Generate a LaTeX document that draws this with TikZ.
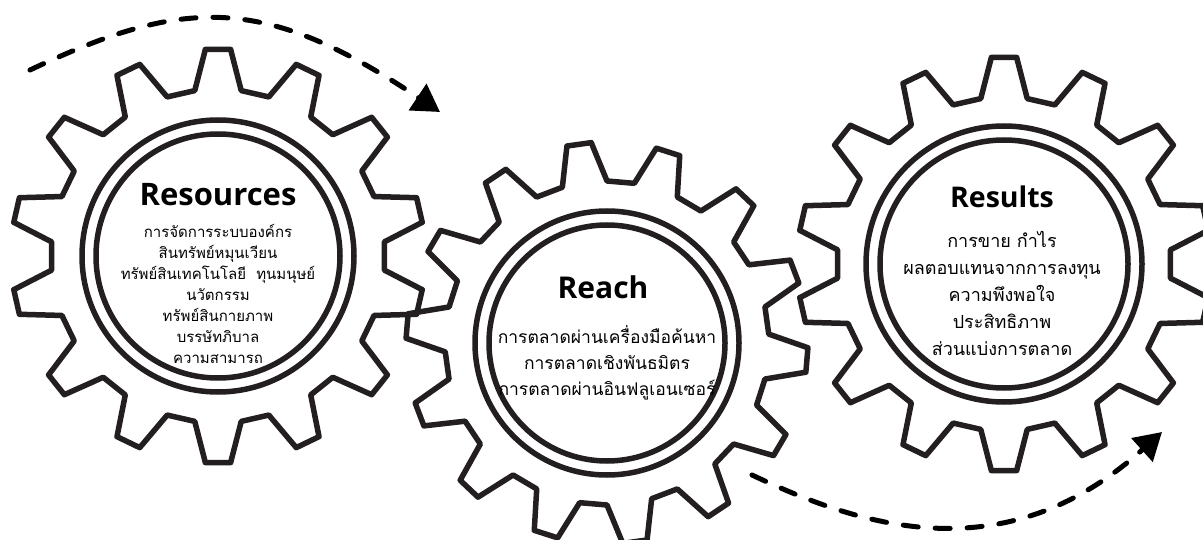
\documentclass[tikz,border=0pt]{standalone}
\usepackage{fontspec}
\setmainfont{Open Sans}
\newfontfamily\thaifont[Script=Thai]{Loma}
\usetikzlibrary{arrows.meta}
\definecolor{gearline}{HTML}{231F20}

\begin{document}
\begin{tikzpicture}[
    x=1pt, y=-1pt,
    gear/.style={draw=gearline, line width=5.5pt, line join=round},
    ring/.style={draw=gearline, line width=5.5pt},
    title/.style={font=\fontsize{31}{36}\selectfont\bfseries},
    items/.style={align=center, inner sep=0pt},
    flow/.style={line width=5pt, dash pattern=on 15pt off 17pt, line cap=round, -{Triangle[length=27pt,width=31pt]}},
]
    \useasboundingbox (0,0) rectangle (1203,540);

    % Gear 1: Resources
    \coordinate (res) at (218,256);
    \begin{scope}[shift={(res)}]
        \draw[gear] (82:167) \foreach \i in {0,...,13} {
            -- ({90+\i*360/14-8}:167) -- ({90+\i*360/14-3.5}:207)
            -- ({90+\i*360/14+3.5}:207) -- ({90+\i*360/14+8}:167)} -- cycle;
    \end{scope}
    \draw[ring] (res) circle[radius=136];
    \draw[ring] (res) circle[radius=122];
    \node[title] (resT) at (218,195) {Resources};
    \node[items, font=\thaifont\fontsize{15}{21}\selectfont] (resL) at (218,294) {%
        การจัดการระบบองค์กร\\ สินทรัพย์หมุนเวียน\\ ทรัพย์สินเทคโนโลยี\ \ ทุนมนุษย์\\
        นวัตกรรม\\ ทรัพย์สินกายภาพ\\ บรรษัทภิบาล\\ ความสามารถ};

    % Gear 2: Reach
    \coordinate (rea) at (607,343);
    \begin{scope}[shift={(rea)}]
        \draw[gear] (74:162) \foreach \i in {0,...,13} {
            -- ({82+\i*360/14-8}:162) -- ({82+\i*360/14-3.5}:201)
            -- ({82+\i*360/14+3.5}:201) -- ({82+\i*360/14+8}:162)} -- cycle;
    \end{scope}
    \draw[ring] (rea) circle[radius=132];
    \draw[ring] (rea) circle[radius=118];
    \node[title, font=\fontsize{30}{34}\selectfont\bfseries] (reaT) at (603,287) {Reach};
    \node[items, font=\thaifont\fontsize{17.5}{26}\selectfont] (reaL) at (607,363) {%
        การตลาดผ่านเครื่องมือค้นหา\\ การตลาดเชิงพันธมิตร\\ การตลาดผ่านอินฟลูเอนเซอร์};

    % Gear 3: Results
    \coordinate (rsl) at (1004,264);
    \begin{scope}[shift={(rsl)}]
        \draw[gear] (82:167) \foreach \i in {0,...,13} {
            -- ({90+\i*360/14-8}:167) -- ({90+\i*360/14-3.5}:207)
            -- ({90+\i*360/14+3.5}:207) -- ({90+\i*360/14+8}:167)} -- cycle;
    \end{scope}
    \draw[ring] (rsl) circle[radius=138];
    \draw[ring] (rsl) circle[radius=124];
    \node[title, font=\fontsize{28.5}{34}\selectfont\bfseries] (rslT) at (1002,197) {Results};
    \node[items, font=\thaifont\fontsize{18}{27}\selectfont] (rslL) at (1002,293) {%
        การขาย กำไร\\ ผลตอบแทนจากการลงทุน\\ ความพึงพอใจ\\ ประสิทธิภาพ\\ ส่วนแบ่งการตลาด};

    % flow arrows
    \coordinate (in1) at (30,70);
    \coordinate (out1) at (440,112);
    \draw[flow] (in1) .. controls (183,-2) and (262,-7) .. (out1);
    \coordinate (in2) at (752,475);
    \coordinate (out2) at (1162,432);
    \draw[flow] (in2) .. controls (854,523) and (1001,577) .. (out2);
\end{tikzpicture}
\end{document}
